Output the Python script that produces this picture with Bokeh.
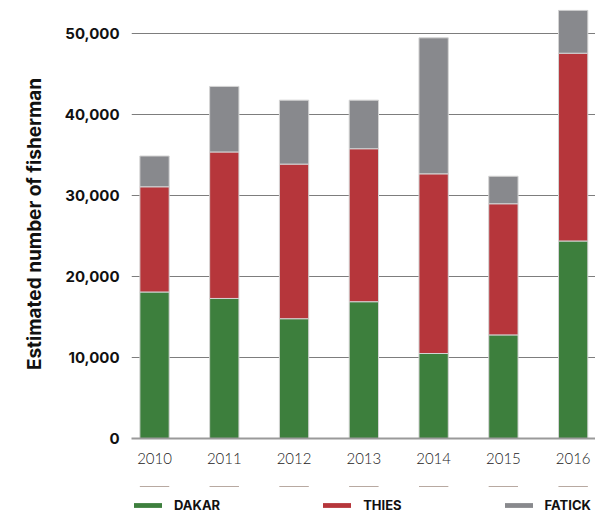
from bokeh.plotting import figure
from bokeh.layouts import column
from bokeh.models import (ColumnDataSource, Range1d, FixedTicker, NumeralTickFormatter,
                          Legend, LegendItem)
from bokeh.embed import file_html
from bokeh.resources import INLINE

# Estimated number of fishermen per region and year
years = ["2010", "2011", "2012", "2013", "2014", "2015", "2016"]
dakar = [18100, 17300, 14800, 16900, 10500, 12800, 24400]
thies = [13000, 18100, 19100, 18900, 22200, 16200, 23200]
fatick = [3800, 8100, 7900, 6000, 16800, 3400, 5300]
regions = ["DAKAR", "THIES", "FATICK"]
colors = ["#3d7f3d", "#b6363b", "#88898d"]
y_ticks = [0, 10000, 20000, 30000, 40000, 50000]

FONT = "Inter"
BAR_EDGE = "#d4d4d4"
STACK = ["dakar", "thies", "fatick"]

xs = list(range(len(years)))
src = ColumnDataSource(dict(x=xs, dakar=dakar, thies=thies, fatick=fatick))

p = figure(width=595, height=486, output_backend="svg", toolbar_location=None,
           x_range=Range1d(-0.33, 6.32), y_range=Range1d(0, 53000),
           min_border_left=131, min_border_right=0, min_border_top=9,
           min_border_bottom=48)
p.outline_line_color = None

p.vbar_stack(STACK, x="x", width=0.42, source=src,
             fill_color=colors, line_color=BAR_EDGE, line_width=1)

# y axis
p.yaxis.ticker = FixedTicker(ticks=y_ticks)
p.yaxis.formatter = NumeralTickFormatter(format="0,0")
p.yaxis.axis_line_color = None
p.yaxis.major_tick_line_color = None
p.yaxis.minor_tick_line_color = None
p.yaxis.major_label_standoff = 6
p.yaxis.major_label_text_font = FONT
p.yaxis.major_label_text_font_style = "bold"
p.yaxis.major_label_text_font_size = "15px"
p.yaxis.major_label_text_color = "#111111"
p.yaxis.axis_label = "Estimated number of fisherman"
p.yaxis.axis_label_text_font = FONT
p.yaxis.axis_label_text_font_style = "bold"
p.yaxis.axis_label_text_font_size = "19px"
p.yaxis.axis_label_text_color = "#111111"
p.yaxis.axis_label_standoff = 16

# x axis
p.xaxis.ticker = FixedTicker(ticks=xs)
p.xaxis.major_label_overrides = {i: y for i, y in enumerate(years)}
p.xaxis.axis_line_color = "#9a9a9a"
p.xaxis.axis_line_width = 2
p.xaxis.major_tick_line_color = None
p.xaxis.minor_tick_line_color = None
p.xaxis.major_label_standoff = 8
p.xaxis.major_label_text_font = "Lato Light, Lato"
p.xaxis.major_label_text_font_size = "15px"
p.xaxis.major_label_text_color = "#222222"

# grid
p.xgrid.grid_line_color = None
p.ygrid.ticker = FixedTicker(ticks=y_ticks[1:])
p.ygrid.grid_line_color = "#7d7d7d"
p.ygrid.grid_line_width = 1

# legend strip underneath the chart; its key bars lie far outside the strip's view
leg = figure(width=595, height=30, output_backend="svg", toolbar_location=None,
             x_range=Range1d(-0.33, 6.32), y_range=Range1d(-1000, -999),
             x_axis_type=None, y_axis_type=None,
             min_border_left=0, min_border_right=0, min_border_top=0, min_border_bottom=0)
leg.outline_line_color = None
leg.xgrid.grid_line_color = None
leg.ygrid.grid_line_color = None
keys = leg.vbar_stack(STACK, x="x", width=0.42, source=src,
                      fill_color=colors, line_color=None)
# the strip's frame is aligned with the chart's frame, so x is relative to it
legend = Legend(items=[LegendItem(label=r, renderers=[k]) for r, k in zip(regions, keys)],
                orientation="horizontal", location=(-1, 3),
                glyph_width=35, glyph_height=6, label_standoff=9,
                spacing=99, padding=0, margin=0,
                label_text_font=FONT, label_text_font_style="bold",
                label_text_font_size="13px", label_text_color="#111111",
                background_fill_alpha=0, border_line_color=None)
leg.add_layout(legend, "center")

layout = column(p, leg, spacing=0)
open("out.html", "w").write(file_html(layout, INLINE))
